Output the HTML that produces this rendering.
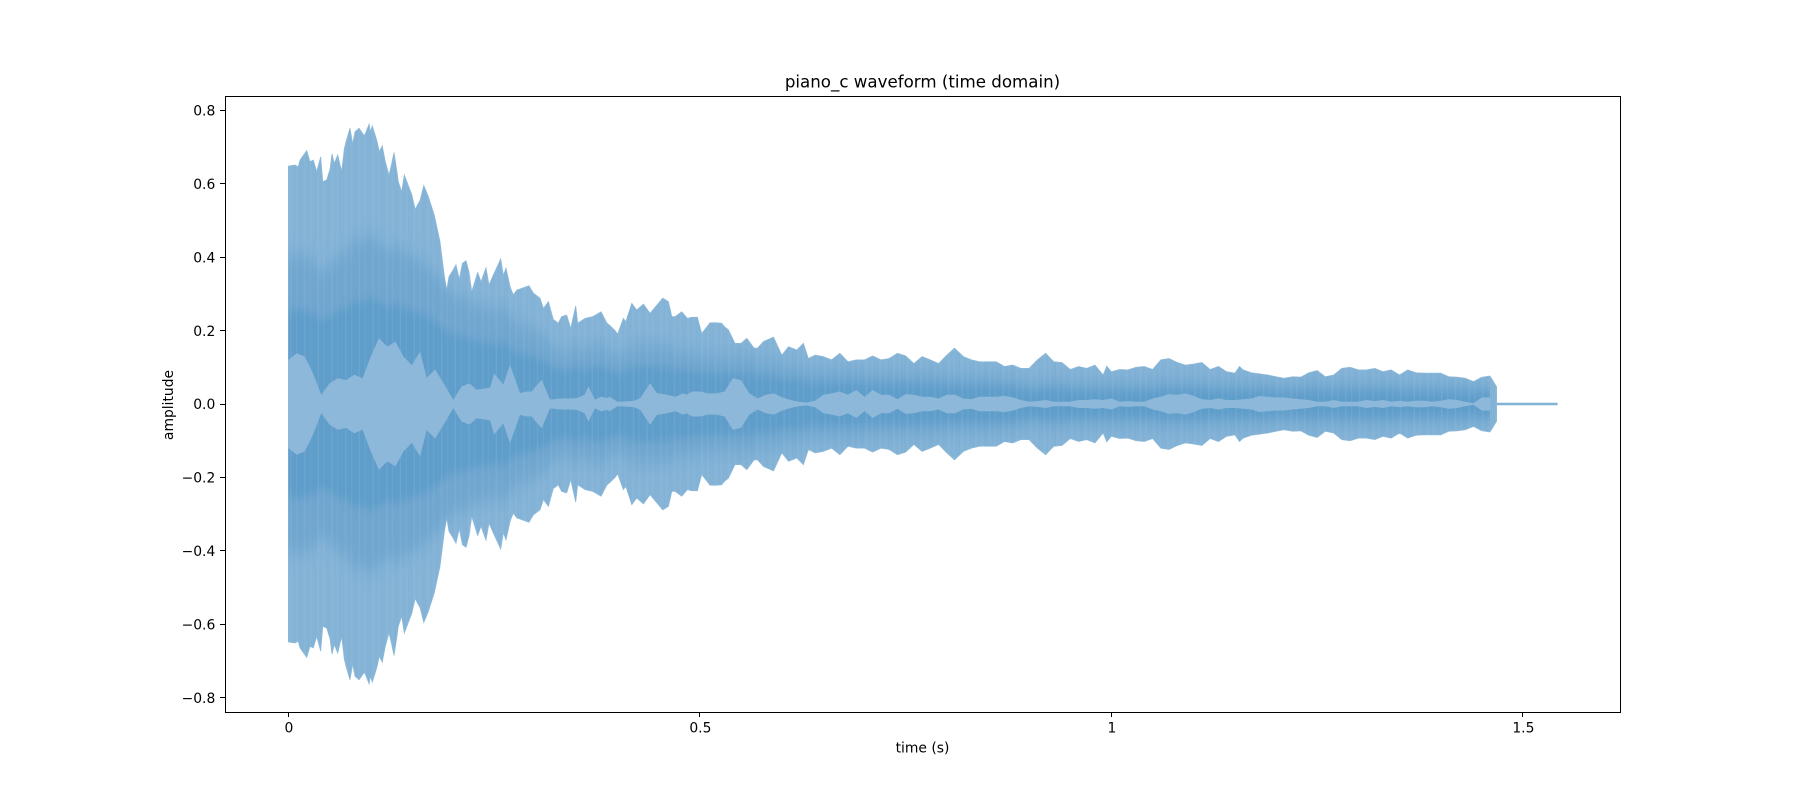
<!DOCTYPE html>
<html lang="en">
<head>
<meta charset="utf-8">
<title>piano_c waveform (time domain)</title>
<style>
html,body{margin:0;padding:0;background:#fff;}
svg{display:block;}
text{font-family:"DejaVu Sans","Liberation Sans",sans-serif;fill:#000;}
</style>
</head>
<body>
<svg id="chart" xmlns="http://www.w3.org/2000/svg" width="1800" height="800" viewBox="0 0 1800 800">
  <defs>
    <clipPath id="outer-clip"><polygon id="outer-clip-shape" points=""></polygon></clipPath>
    <filter id="wide-blur" filterUnits="userSpaceOnUse" x="225" y="96" width="1395" height="616">
      <feGaussianBlur stdDeviation="0 9"></feGaussianBlur>
    </filter>
    <filter id="core-blur" filterUnits="userSpaceOnUse" x="225" y="96" width="1395" height="616">
      <feGaussianBlur stdDeviation="0 5"></feGaussianBlur>
    </filter>
    <pattern id="stripes" patternUnits="userSpaceOnUse" width="13.7" height="10">
      <rect x="0" y="0" width="1" height="10" fill="#5b9cc9" fill-opacity="0.16"></rect>
      <rect x="2.6" y="0" width="1.3" height="10" fill="#8fbbd9" fill-opacity="0.28"></rect>
      <rect x="6.1" y="0" width="1" height="10" fill="#5b9cc9" fill-opacity="0.12"></rect>
      <rect x="8.4" y="0" width="1" height="10" fill="#8fbbd9" fill-opacity="0.22"></rect>
      <rect x="11.2" y="0" width="1.2" height="10" fill="#5b9cc9" fill-opacity="0.14"></rect>
    </pattern>
  </defs>
  <rect x="0" y="0" width="1800" height="800" fill="#ffffff"></rect>
  <g id="marks"></g>
  <g id="axes"></g>
  <rect x="225.5" y="96.5" width="1395" height="616" fill="none" stroke="#000" stroke-width="1"></rect>
  <text x="922.5" y="87.7" font-size="16.67" text-anchor="middle">piano_c waveform (time domain)</text>
  <text x="922.5" y="752.5" font-size="13.89" text-anchor="middle">time (s)</text>
  <text transform="translate(173 405) rotate(-90)" font-size="13.89" text-anchor="middle">amplitude</text>
</svg>
<script>
const sampleStep = 0.01;
const outerEnvelope = [
  .648,.645,.683,.665,.62,.64,.66,.696,.73,.733,
  .755,.705,.63,.673,.62,.57,.555,.565,.483,.347,
  .342,.365,.347,.33,.365,.347,.388,.32,.306,.31,
  .297,.27,.238,.229,.229,.24,.22,.238,.251,.215,
  .19,.224,.27,.27,.238,.26,.279,.238,.242,.236,
  .2,.192,.221,.21,.179,.165,.17,.152,.165,.174,
  .133,.152,.152,.124,.133,.129,.12,.138,.115,.12,
  .12,.131,.12,.124,.138,.131,.11,.129,.12,.11,
  .133,.152,.129,.12,.115,.115,.115,.102,.106,.097,
  .097,.12,.138,.115,.113,.094,.102,.097,.106,.079,
  .088,.094,.093,.1,.102,.094,.12,.124,.113,.106,
  .109,.113,.094,.102,.088,.084,.093,.085,.082,.079,
  .074,.07,.074,.073,.085,.091,.074,.079,.097,.1,
  .093,.093,.097,.088,.093,.079,.093,.085,.084,.084,
  .084,.074,.073,.07,.061,.073,.076
];
const innerEnvelope = [
  .12,.138,.129,.083,.025,.056,.07,.065,.08,.07,
  .129,.179,.156,.17,.129,.106,.147,.07,.083,.052,
  .011,.056,.056,.043,.043,.083,.056,.102,.047,.034,
  .047,.074,.02,.015,.015,.02,.025,.052,.02,.02,
  .006,.034,.009,.025,.047,.054,.025,.02,.029,.034,
  .015,.029,.029,.034,.07,.065,.029,.015,.025,.029,
  .018,.011,.006,.004,.009,.025,.029,.034,.025,.038,
  .02,.038,.025,.025,.013,.027,.025,.02,.02,.015,
  .025,.025,.015,.013,.02,.02,.02,.022,.018,.011,
  .006,.008,.011,.006,.006,.006,.011,.011,.013,.011,
  .015,.006,.008,.006,.006,.015,.02,.027,.025,.029,
  .022,.013,.011,.015,.011,.011,.013,.015,.022,.02,
  .018,.018,.015,.013,.011,.006,.006,.011,.006,.006,
  .006,.011,.008,.011,.006,.009,.006,.009,.009,.006,
  .009,.013,.011,.006,.002,.018,.018
];
const bandEnvelope = [
  .30,.30,.30,.29,.27,.28,.30,.31,.33,.33,
  .34,.33,.31,.32,.31,.3,.29,.28,.26,.24,
  .22,.22,.21,.2,.2,.19,.2,.18,.16,.16,
  .15,.14,.12,.11,.11,.12,.11,.12,.12,.11,
  .1,.11,.12,.12,.12,.12,.12,.11,.11,.11,
  .1,.1,.1,.1,.1,.1,.1,.09,.09,.09,
  .08,.08,.08,.07,.07,.07,.07,.07,.07,.07,
  .065,.065,.065,.065,.065,.065,.065,.065,.065,.065,
  .06,.06,.06,.06,.06,.06,.06,.055,.055,.05,
  .045,.045,.05,.05,.05,.045,.045,.045,.045,.045,
  .045,.045,.045,.045,.045,.045,.05,.05,.05,.05,
  .05,.05,.045,.045,.045,.045,.045,.045,.045,.045,
  .04,.04,.04,.04,.045,.045,.04,.04,.045,.045,
  .045,.045,.045,.045,.045,.04,.04,.04,.04,.04,
  .04,.04,.04,.04,.035,.04,.04
];
const outerDetailTimes = [
  .008,.012,.0141,.0222,.0262,.0303,.0344,.0392,.0417,.0465,.0505,.053,.0558,.0599,.0648,.068,.0704,.0749,.0781,.0809,
  .0858,.0923,.098,.0996,.102,.1073,.1105,.1141,.1174,.1222,.1247,.1283,.1316,.1335,.1377,.1408,.1539,.1645,.1771,
  .1842,.1895,.1923,.1952,.1996,.2037,.2077,.2114,.2158,.2195,.2227,.23,.234,.2401,.2438,.249,.258,.2612,.2644,.2693,
  .2733,.2774,.2924,.2976,.3057,.3098,.3159,.3219,.328,.3321,.3381,.343,.3491,.3515,.3605,
  .3868,.397,.407,.4172,.4232,.4314,.4395,.4496,.4548,.4617,.4658,.4779,.4848,.497,.5022,.5124,.5265,.5346,.5427,
  .5569,.5658,.5771,.5894,.5995,.6076,.6177,.6258,.6318,.8093,.92,.9943,1.1556
];
const outerDetailValues = [
  .651,.646,.664,.69,.66,.664,.633,.673,.605,.61,.639,.681,.655,.678,.633,.696,.717,.751,.708,.741,
  .751,.73,.762,.741,.757,.719,.687,.703,.663,.623,.646,.685,.637,.605,.578,.624,.53,.595,.515,
  .442,.347,.31,.347,.363,.379,.34,.383,.39,.36,.306,.358,.333,.371,.324,.351,.395,.35,.37,.32,
  .297,.31,.322,.302,.288,.26,.279,.23,.22,.238,.242,.206,.267,.22,.233,
  .221,.2,.233,.274,.256,.272,.247,.274,.288,.279,.238,.251,.233,.236,.192,.221,.22,.202,.165,
  .179,.152,.17,.182,.133,.156,.147,.165,.124,.152,.138,.103,.102
];
const innerDetailTimes = [
  .16,.168,.1784,.1883,.2004,.2105,.2287,.2449,.2611,.2693,.2814,.2956,.3078,.3179,.3503,.3645,.3726,.3868,.4112,.4274,.4395,.4476,.4841,.5003
];
const innerDetailValues = [
  .143,.071,.094,.057,.012,.048,.039,.044,.053,.107,.03,.034,.066,.012,.016,.048,.012,.016,.007,.016,.057,.03,.025,.034
];
const signalEnd = 1.468;
const signalEndValue = 0.047;
const tailTimes = [1.468, 1.542];
const tailValues = [0, 0];
const xTickValues = [0, 0.5, 1, 1.5];
const xTickLabels = ["0", "0.5", "1", "1.5"];
const yTickValues = [-0.8, -0.6, -0.4, -0.2, 0, 0.2, 0.4, 0.6, 0.8];
const yTickLabels = ["\u22120.8", "\u22120.6", "\u22120.4", "\u22120.2", "0.0", "0.2", "0.4", "0.6", "0.8"];

const NS = "http://www.w3.org/2000/svg";
const wideBandScale = 1.35;
const coreBandScale = 0.85;
function xScale(t) { return 288.4 + t * 823.0; }
function yScale(a) { return 404.0 - a * 367.2; }

function envelopePoints(values, times, details) {
  const pts = [];
  values.forEach(function (v, i) {
    const t = i * sampleStep;
    const near = times.some(function (d) { return Math.abs(d - t) < 0.003; });
    if (!near) { pts.push([t, v]); }
  });
  times.forEach(function (t, i) { pts.push([t, details[i]]); });
  pts.sort(function (a, b) { return a[0] - b[0]; });
  return pts;
}
function mirroredPolygon(pts, scale) {
  const top = pts.map(function (p) { return xScale(p[0]).toFixed(1) + "," + yScale(p[1] * scale).toFixed(1); });
  const bottom = pts.slice().reverse().map(function (p) { return xScale(p[0]).toFixed(1) + "," + yScale(-p[1] * scale).toFixed(1); });
  return top.concat(bottom).join(" ");
}

const marks = document.getElementById("marks");
const outerSeries = envelopePoints(outerEnvelope, outerDetailTimes, outerDetailValues);
outerSeries.push([signalEnd, signalEndValue]);
const outerPts = mirroredPolygon(outerSeries, 1);
const bandSeries = envelopePoints(bandEnvelope, [], []);
const innerSeries = envelopePoints(innerEnvelope, innerDetailTimes, innerDetailValues);
document.getElementById("outer-clip-shape").setAttribute("points", outerPts);

const outer = document.createElementNS(NS, "polygon");


outer.setAttribute("points", outerPts);
outer.setAttribute("fill", "#86b4d7");
outer.setAttribute("stroke", "#8fbbd9");
outer.setAttribute("stroke-width", "0.8");
marks.appendChild(outer);

const bandGroup = document.createElementNS(NS, "g");


bandGroup.setAttribute("clip-path", "url(#outer-clip)");
marks.appendChild(bandGroup);

const wideBand = document.createElementNS(NS, "polygon");


wideBand.setAttribute("points", mirroredPolygon(bandSeries, wideBandScale));
wideBand.setAttribute("fill", "#5b9cc9");
wideBand.setAttribute("fill-opacity", "0.5");
wideBand.setAttribute("filter", "url(#wide-blur)");
bandGroup.appendChild(wideBand);

const coreBand = document.createElementNS(NS, "polygon");


coreBand.setAttribute("points", mirroredPolygon(bandSeries, coreBandScale));
coreBand.setAttribute("fill", "#5798c8");
coreBand.setAttribute("fill-opacity", "0.7");
coreBand.setAttribute("filter", "url(#core-blur)");
bandGroup.appendChild(coreBand);

const stripes = document.createElementNS(NS, "polygon");


stripes.setAttribute("points", outerPts);
stripes.setAttribute("fill", "url(#stripes)");
marks.appendChild(stripes);

const inner = document.createElementNS(NS, "polygon");


inner.setAttribute("points", mirroredPolygon(innerSeries, 1));
inner.setAttribute("fill", "#8db8d9");
marks.appendChild(inner);

const tail = document.createElementNS(NS, "polyline");


tail.setAttribute("points", tailTimes.map(function (t, i) { return xScale(t).toFixed(1) + "," + yScale(tailValues[i]).toFixed(1); }).join(" "));
tail.setAttribute("fill", "none");
tail.setAttribute("stroke", "#82b2d6");
tail.setAttribute("stroke-width", "2.4");
marks.appendChild(tail);

const axes = document.getElementById("axes");
xTickValues.forEach(function (v, i) {
  const x = xScale(v);
  const tick = document.createElementNS(NS, "line");
  
  
  tick.setAttribute("x1", Math.floor(x) + 0.5);
  tick.setAttribute("x2", Math.floor(x) + 0.5);
  tick.setAttribute("y1", 712.5);
  tick.setAttribute("y2", 717);
  tick.setAttribute("stroke", "#000");
  tick.setAttribute("stroke-width", "1");
  axes.appendChild(tick);
  const label = document.createElementNS(NS, "text");
  
  
  label.setAttribute("x", x + 0.5);
  label.setAttribute("y", 732.5);
  label.setAttribute("font-size", "13.89");
  label.setAttribute("text-anchor", "middle");
  label.textContent = xTickLabels[i];
  axes.appendChild(label);
});
yTickValues.forEach(function (v, i) {
  const y = yScale(v);
  const tick = document.createElementNS(NS, "line");
  
  
  tick.setAttribute("x1", 220);
  tick.setAttribute("x2", 225.5);
  tick.setAttribute("y1", Math.floor(y) + 0.5);
  tick.setAttribute("y2", Math.floor(y) + 0.5);
  tick.setAttribute("stroke", "#000");
  tick.setAttribute("stroke-width", "1");
  axes.appendChild(tick);
  const label = document.createElementNS(NS, "text");
  
  
  label.setAttribute("x", 215.3);
  label.setAttribute("y", y + 5.2);
  label.setAttribute("font-size", "13.89");
  label.setAttribute("text-anchor", "end");
  label.textContent = yTickLabels[i];
  axes.appendChild(label);
});
</script>
</body>
</html>
